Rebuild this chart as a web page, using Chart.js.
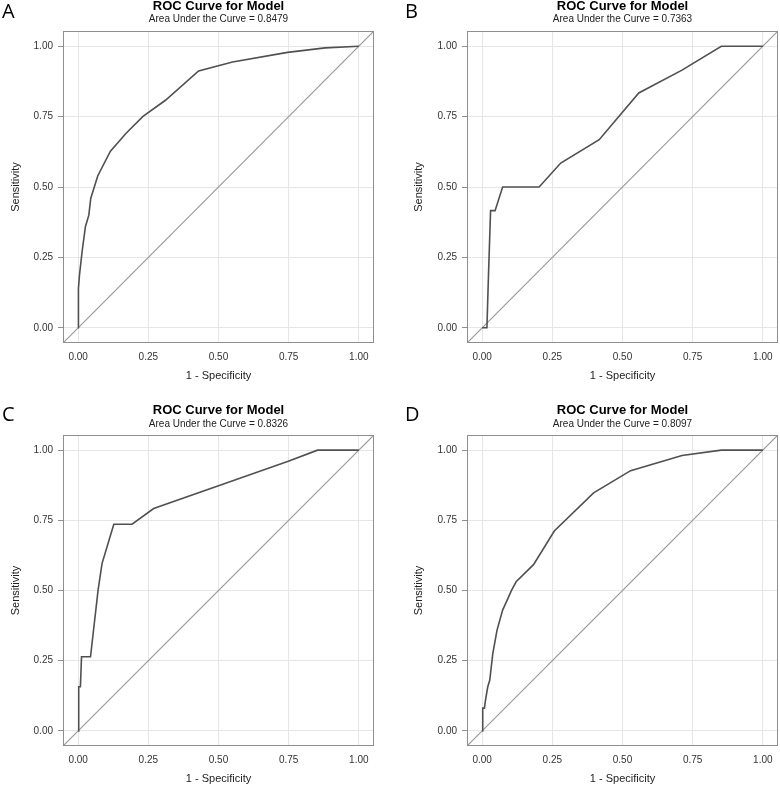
<!DOCTYPE html>
<html>
<head>
<meta charset="utf-8">
<script src="https://cdn.jsdelivr.net/npm/chart.js@4.4.1/dist/chart.umd.min.js"></script>
<style>
  body { margin: 0; background: #fff; }
  #wrap { position: relative; width: 780px; height: 787px; overflow: hidden; }
  canvas { position: absolute; }
  .lbl { position: absolute; font-family: "Open Sans", sans-serif; font-size: 20px; color: #000; line-height: 1; }
</style>
</head>
<body>
<div id="wrap">
  <canvas id="cA" width="390" height="390" style="left:0;top:0"></canvas>
  <canvas id="cB" width="390" height="390" style="left:390px;top:0"></canvas>
  <canvas id="cC" width="390" height="397" style="left:0;top:390px"></canvas>
  <canvas id="cD" width="390" height="397" style="left:390px;top:390px"></canvas>
  <div class="lbl" style="left:2px;top:1px">A</div>
  <div class="lbl" style="left:405px;top:1px">B</div>
  <div class="lbl" style="left:2px;top:404px">C</div>
  <div class="lbl" style="left:405px;top:404px">D</div>
</div>
<script>
// valores (1 - especificidade, sensibilidade)
var tickVals = [0, 0.25, 0.5, 0.75, 1];
var diagonal = [{x: -0.1, y: -0.1}, {x: 1.1, y: 1.1}];

var xA = [0, 0.001, 0.005, 0.014, 0.026, 0.038, 0.045, 0.07, 0.115, 0.17, 0.231, 0.311, 0.429, 0.55, 0.746, 0.88, 1];
var yA = [0, 0.14, 0.19, 0.27, 0.36, 0.40, 0.46, 0.54, 0.627, 0.69, 0.751, 0.808, 0.912, 0.944, 0.978, 0.994, 1];
var aucA = '0.8479';

var xB = [0, 0.017, 0.022, 0.03, 0.046, 0.073, 0.203, 0.28, 0.417, 0.558, 0.712, 0.852, 1];
var yB = [0, 0, 0.17, 0.416, 0.416, 0.5, 0.5, 0.585, 0.668, 0.834, 0.915, 1, 1];
var aucB = '0.7363';

var xC = [0, 0.002, 0.008, 0.012, 0.044, 0.071, 0.085, 0.127, 0.192, 0.269, 0.5, 0.746, 0.853, 1];
var yC = [0, 0.157, 0.157, 0.264, 0.264, 0.501, 0.596, 0.736, 0.736, 0.792, 0.873, 0.96, 1, 1];
var aucC = '0.8326';

var xD = [0, 0.002, 0.008, 0.012, 0.02, 0.027, 0.038, 0.053, 0.073, 0.105, 0.121, 0.183, 0.257, 0.397, 0.529, 0.712, 0.852, 1];
var yD = [0, 0.081, 0.081, 0.11, 0.157, 0.18, 0.276, 0.359, 0.43, 0.501, 0.531, 0.592, 0.712, 0.848, 0.927, 0.981, 1, 1];
var aucD = '0.8097';

var AX_MIN = -0.054, AX_MAX = 1.054;

// moldura em volta da área do gráfico
var framePlugin = {
  id: 'frame',
  afterDraw: function(chart) {
    var a = chart.chartArea, c = chart.ctx;
    c.save();
    c.strokeStyle = '#8f8f8f';
    c.lineWidth = 1;
    c.strokeRect(Math.round(a.left) + 0.5, Math.round(a.top) + 0.5, Math.round(a.right - a.left) - 1, Math.round(a.bottom - a.top) - 1);
    c.restore();
  }
};

function pts(xs, ys) {
  return xs.map(function(v, i) { return {x: v, y: ys[i]}; });
}

function makeChart(id, xs, ys, auc, p) {
  var ctx = document.getElementById(id).getContext('2d');
  return new Chart(ctx, {
    type: 'scatter',
    data: {
      datasets: [{
        label: 'ROC',
        data: pts(xs, ys),
        showLine: true,
        borderColor: '#505050',
        borderWidth: 1.6,
        pointRadius: 0,
        tension: 0,
        order: 1
      }, {
        label: 'Diagonal',
        data: diagonal,
        showLine: true,
        borderColor: '#9a9a9a',
        borderWidth: 1.2,
        pointRadius: 0,
        order: 2
      }]
    },
    options: {
      responsive: false,
      animation: false,
      events: [],
      layout: { padding: { left: 0, right: p.right, top: 0, bottom: 0 } },
      plugins: {
        legend: { display: false },
        tooltip: { enabled: false },
        title: {
          display: true,
          text: 'ROC Curve for Model',
          fullSize: false,
          color: '#000',
          font: { family: 'Liberation Sans, Arial, sans-serif', size: 13, weight: 'bold', lineHeight: 1 },
          padding: { top: p.titleTop, bottom: 0 }
        },
        subtitle: {
          display: true,
          text: 'Area Under the Curve = ' + auc,
          fullSize: false,
          color: '#222',
          font: { family: 'Liberation Sans, Arial, sans-serif', size: 10, lineHeight: 1.2 },
          padding: { top: p.subTop, bottom: p.subBottom }
        }
      },
      scales: {
        x: {
          type: 'linear',
          min: AX_MIN, max: AX_MAX,
          afterBuildTicks: function(s) { s.ticks = tickVals.map(function(v) { return {value: v}; }); },
          afterFit: function(s) { s.height = p.xh; },
          ticks: {
            color: '#333',
            padding: 3,
            font: { family: 'Liberation Sans, Arial, sans-serif', size: 10 },
            callback: function(v) { return v.toFixed(2); }
          },
          grid: { color: '#e6e6e6', tickLength: 5, tickColor: 'rgba(0,0,0,0)' },
          border: { display: false },
          title: {
            display: true,
            text: '1 - Specificity',
            color: '#222',
            font: { family: 'Liberation Sans, Arial, sans-serif', size: 11 },
            padding: { top: 0, bottom: p.xTitleBottom }
          }
        },
        y: {
          type: 'linear',
          min: AX_MIN, max: AX_MAX,
          afterBuildTicks: function(s) { s.ticks = tickVals.map(function(v) { return {value: v}; }); },
          afterFit: function(s) { s.width = p.yw; },
          ticks: {
            color: '#333',
            padding: 5,
            font: { family: 'Liberation Sans, Arial, sans-serif', size: 10 },
            callback: function(v) { return v.toFixed(2); }
          },
          grid: { color: '#e6e6e6', tickLength: 5, tickColor: '#8f8f8f' },
          border: { display: false },
          title: {
            display: true,
            text: 'Sensitivity',
            color: '#222',
            font: { family: 'Liberation Sans, Arial, sans-serif', size: 11 },
            padding: { top: p.yTitleTop, bottom: 0 }
          }
        }
      }
    },
    plugins: [framePlugin]
  });
}

var topRow = { titleTop: 0, subTop: 0, subBottom: 6, xh: 47, xTitleBottom: 7.5 };
var botRow = { titleTop: 13.5, subTop: 1.5, subBottom: 5, xh: 41, xTitleBottom: 1 };

makeChart('cA', xA, yA, aucA, Object.assign({}, topRow, { right: 16, yw: 63, yTitleTop: 9.5 }));
makeChart('cB', xB, yB, aucB, Object.assign({}, topRow, { right: 2, yw: 77, yTitleTop: 22.5 }));
makeChart('cC', xC, yC, aucC, Object.assign({}, botRow, { right: 16, yw: 63, yTitleTop: 9.5 }));
makeChart('cD', xD, yD, aucD, Object.assign({}, botRow, { right: 2, yw: 77, yTitleTop: 22.5 }));
</script>
</body>
</html>
